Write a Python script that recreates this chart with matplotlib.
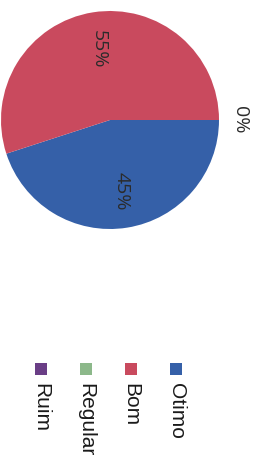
import matplotlib
matplotlib.use('Agg')
import matplotlib.pyplot as plt
from matplotlib.patches import Rectangle

# dados (grafico digitalizado e girado 90 graus)
categorias = ['Otimo', 'Bom', 'Regular', 'Ruim']
valores = [45, 55, 0, 0]
cores = ['#3560a8', '#c94a5e', '#8cb88a', '#6a3e86']

W, H = 256, 458
fig = plt.figure(figsize=(W / 100, H / 100), dpi=100)

# pizza
cx, cy, r = 110, 120, 109
ax = fig.add_axes([(cx - r) / W, 1 - (cy + r) / H, 2 * r / W, 2 * r / H])
wedges, _ = ax.pie(valores, colors=cores, startangle=0, counterclock=False,
                   wedgeprops=dict(linewidth=0))
ax.set_xlim(-1, 1)
ax.set_ylim(-1, 1)
ax.set_aspect('equal')
ax.axis('off')

# rotulos de porcentagem
import numpy as np
ja_zero = False
for w, v in zip(wedges, valores):
    ang = np.deg2rad((w.theta1 + w.theta2) / 2)
    if v == 0:
        if ja_zero:
            continue
        ja_zero = True
        d = 1.19
    else:
        d = 0.66
    ax.text(d * np.cos(ang), d * np.sin(ang), f'{v}%', rotation=270,
            rotation_mode='anchor', ha='center', va='center',
            fontsize=14, color='#2b2b2b', family='Open Sans', clip_on=False)

# legenda (girada)
xs = [176, 131, 86, 41]
for nome, cor, x in zip(categorias, cores, xs):
    fig.patches.append(Rectangle(((x - 6) / W, 1 - 375 / H), 12 / W, 12 / H,
                                 transform=fig.transFigure, facecolor=cor,
                                 edgecolor='none'))
    fig.text(x / W, 1 - 383 / H, nome, rotation=270, rotation_mode='anchor',
             ha='left', va='center', fontsize=15, color='#1a1a1a',
             family='Liberation Sans')

fig.savefig('out.png', dpi=100)
